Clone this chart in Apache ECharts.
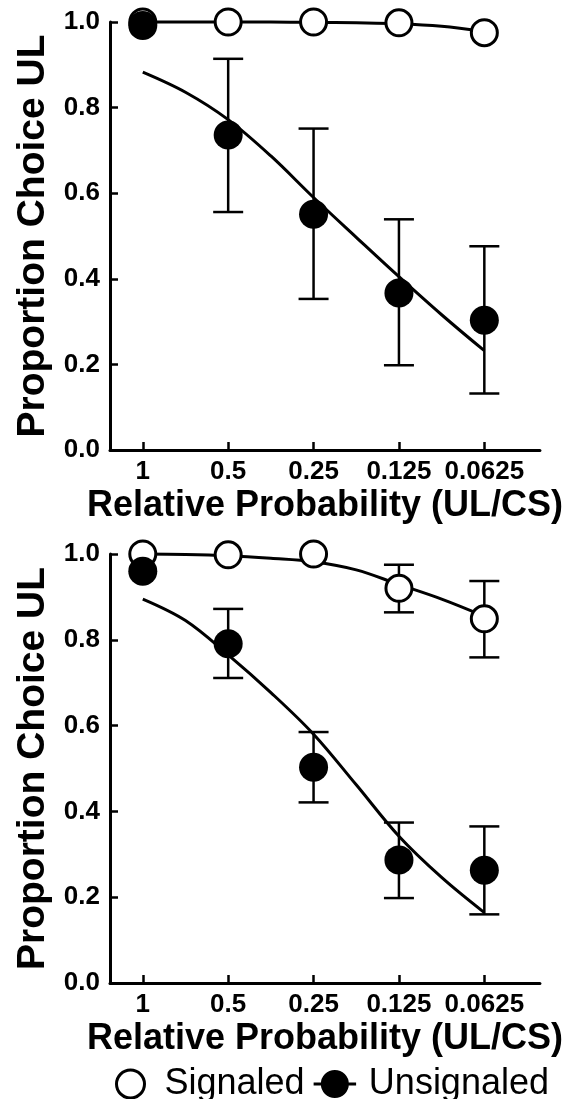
<!DOCTYPE html>
<html>
<head>
<meta charset="utf-8">
<script src="https://cdn.jsdelivr.net/npm/echarts@6/dist/echarts.min.js"></script>
<style>
  html, body { margin: 0; padding: 0; background: #fff; }
  #chart { width: 565px; height: 1099px; }
</style>
</head>
<body>
<div id="chart"></div>
<script>
  // x positions of the five conditions and their labels
  var xLabels = ['1', '0.5', '0.25', '0.125', '0.0625'];
  var xPos = [0, 1, 2, 3, 4];
  var fitX = [0, 0.5, 1, 1.5, 2, 2.5, 3, 3.5, 4];

  // top panel
  var sigA = [1.0, 1.0, 1.0, 0.998, 0.975];
  var unsA = [0.992, 0.736, 0.551, 0.367, 0.303];
  var unsA_hi = [null, 0.914, 0.751, 0.539, 0.476];
  var unsA_lo = [null, 0.556, 0.353, 0.198, 0.132];
  var sigFitA = [1.0, 1.0, 1.0, 1.0, 0.999, 0.998, 0.996, 0.99, 0.978];
  var unsFitA = [0.883, 0.836, 0.772, 0.687, 0.59, 0.497, 0.405, 0.316, 0.232];

  // bottom panel
  var sigB = [1.0, 0.998, 1.0, 0.92, 0.849];
  var sigB_hi = [null, null, null, 0.975, 0.937];
  var sigB_lo = [null, null, null, 0.864, 0.759];
  var unsB = [0.96, 0.791, 0.503, 0.287, 0.263];
  var unsB_hi = [null, 0.872, 0.585, 0.374, 0.365];
  var unsB_lo = [null, 0.711, 0.421, 0.198, 0.160];
  var sigFitB = [1.0, 0.999, 0.996, 0.99, 0.982, 0.963, 0.929, 0.895, 0.855];
  var unsFitB = [0.895, 0.845, 0.765, 0.677, 0.58, 0.462, 0.342, 0.246, 0.164];

  var yTicks = [0, 0.2, 0.4, 0.6, 0.8, 1.0];

  var FONT = '"Liberation Sans", Arial, sans-serif';

  function pairs(xs, ys) {
    var out = [];
    for (var i = 0; i < xs.length; i++) {
      if (ys[i] != null) out.push([xs[i], ys[i]]);
    }
    return out;
  }
  function bars(lo, hi) {
    var out = [];
    for (var i = 0; i < xPos.length; i++) {
      if (lo[i] != null) out.push([xPos[i], lo[i], hi[i]]);
    }
    return out;
  }

  function errorBarItem(params, api) {
    var lo = api.coord([api.value(0), api.value(1)]);
    var hi = api.coord([api.value(0), api.value(2)]);
    var half = 15;
    var st = { stroke: '#000', lineWidth: 2.5 };
    return {
      type: 'group',
      children: [
        { type: 'line', shape: { x1: lo[0], y1: lo[1], x2: hi[0], y2: hi[1] }, style: st },
        { type: 'line', shape: { x1: hi[0] - half, y1: hi[1], x2: hi[0] + half, y2: hi[1] }, style: st },
        { type: 'line', shape: { x1: lo[0] - half, y1: lo[1], x2: lo[0] + half, y2: lo[1] }, style: st }
      ]
    };
  }

  function xAxisFor(idx) {
    return {
      type: 'value',
      gridIndex: idx,
      min: -0.384,
      max: 4.651,
      name: 'Relative Probability (UL/CS)',
      nameLocation: 'middle',
      nameGap: 38,
      nameTextStyle: { fontFamily: FONT, fontWeight: 'bold', fontSize: 36, color: '#000' },
      axisLine: { show: true, onZero: false, lineStyle: { color: '#000', width: 3 } },
      axisTick: { show: true, inside: true, length: 8, customValues: xPos, lineStyle: { color: '#000', width: 2.5 } },
      axisLabel: {
        customValues: xPos,
        margin: 9,
        fontFamily: FONT, fontWeight: 'bold', fontSize: 26, color: '#000',
        formatter: function (v) { return xLabels[Math.round(v)]; }
      },
      splitLine: { show: false }
    };
  }
  function yAxisFor(idx) {
    return {
      type: 'value',
      gridIndex: idx,
      min: 0,
      max: 1,
      name: 'Proportion Choice UL',
      nameLocation: 'middle',
      nameGap: 54,
      nameRotate: 90,
      nameTextStyle: { fontFamily: FONT, fontWeight: 'bold', fontSize: 39, color: '#000' },
      axisLine: { show: true, onZero: false, lineStyle: { color: '#000', width: 3 } },
      axisTick: { show: true, inside: true, length: 8, customValues: yTicks, lineStyle: { color: '#000', width: 2.5 } },
      axisLabel: {
        customValues: yTicks,
        margin: 10,
        fontFamily: FONT, fontWeight: 'bold', fontSize: 26, color: '#000',
        formatter: function (v) { return v.toFixed(1); }
      },
      splitLine: { show: false }
    };
  }

  function fitLine(idx, ys) {
    return {
      type: 'line', xAxisIndex: idx, yAxisIndex: idx,
      data: pairs(fitX, ys), smooth: 0.35, showSymbol: false, symbol: 'none',
      lineStyle: { color: '#000', width: 3, opacity: 1 }, clip: false, z: 2, silent: true
    };
  }
  function errSeries(idx, lo, hi) {
    return {
      type: 'custom', xAxisIndex: idx, yAxisIndex: idx,
      data: bars(lo, hi), renderItem: errorBarItem, clip: false, z: 3, silent: true
    };
  }
  function pointSeries(idx, name, ys, filled) {
    return {
      name: name, type: 'scatter', xAxisIndex: idx, yAxisIndex: idx,
      data: pairs(xPos, ys), symbol: 'circle', symbolSize: filled ? 29 : 26, clip: false,
      itemStyle: filled ? { color: '#000', opacity: 1 } : { color: '#fff', borderColor: '#000', borderWidth: 3, opacity: 1 },
      z: filled ? 5 : 4
    };
  }

  var chart = echarts.init(document.getElementById('chart'));
  var option = {
    animation: false,
    backgroundColor: '#fff',
    grid: [
      { left: 110, top: 22, width: 433, height: 428 },
      { left: 110, top: 554, width: 433, height: 429 }
    ],
    xAxis: [xAxisFor(0), xAxisFor(1)],
    yAxis: [yAxisFor(0), yAxisFor(1)],
    legend: {
      left: 110, top: 1061, width: 455,
      itemGap: 9,
      itemWidth: 44, itemHeight: 28,
      textStyle: { fontFamily: FONT, fontSize: 36, color: '#000', padding: [0, 0, 0, 7] },
      data: [
        { name: 'Signaled', icon: 'circle', itemStyle: { color: '#fff', borderColor: '#000', borderWidth: 3, opacity: 1 } },
        { name: 'Unsignaled', icon: 'path://M0,13 L44,13 L44,16 L0,16 Z M22,0 A14.5,14.5 0 1 1 21.99,0 Z', itemStyle: { color: '#000', opacity: 1 } }
      ]
    },
    series: [
      fitLine(0, sigFitA),
      fitLine(0, unsFitA),
      errSeries(0, unsA_lo, unsA_hi),
      pointSeries(0, 'Signaled', sigA, false),
      pointSeries(0, 'Unsignaled', unsA, true),

      fitLine(1, sigFitB),
      fitLine(1, unsFitB),
      errSeries(1, sigB_lo, sigB_hi),
      errSeries(1, unsB_lo, unsB_hi),
      pointSeries(1, 'Signaled', sigB, false),
      pointSeries(1, 'Unsignaled', unsB, true)
    ]
  };
  chart.setOption(option);
</script>
</body>
</html>
